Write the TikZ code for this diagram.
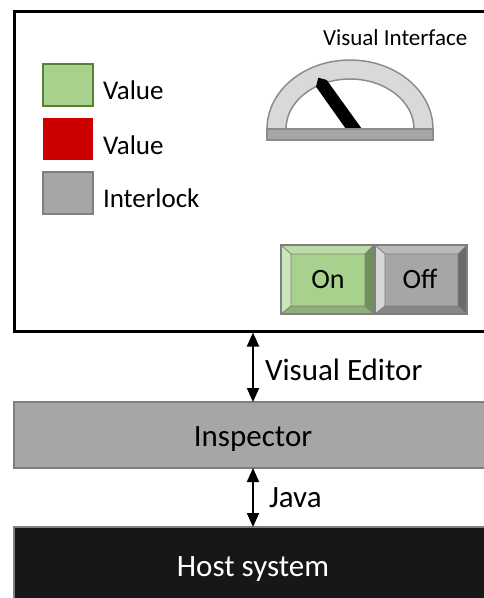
\documentclass[tikz,border=0pt]{standalone}
\usepackage{fontspec}
\setmainfont{Carlito}
\usetikzlibrary{arrows.meta}
\definecolor{gfill}{HTML}{A9D18E}
\definecolor{gstroke}{HTML}{548235}
\definecolor{redv}{HTML}{CC0000}
\definecolor{grfill}{HTML}{A6A6A6}
\definecolor{grstroke}{HTML}{7F7F7F}
\definecolor{gaugefill}{HTML}{D9D9D9}
\definecolor{hostfill}{HTML}{171717}
\definecolor{gtop}{HTML}{BCDBA7}
\definecolor{gleft}{HTML}{CDE5BD}
\definecolor{gright}{HTML}{6F8F5B}
\definecolor{gbot}{HTML}{8EAF78}
\definecolor{otop}{HTML}{BABABA}
\definecolor{oleft}{HTML}{D6D6D6}
\definecolor{oright}{HTML}{6B6B6B}
\definecolor{obot}{HTML}{868686}
\newcommand{\bevbtn}[9]{%
  \fill[#6] (#1,#2) -- (#3,#2) -- (#3-9,#2-9) -- (#1+10,#2-9) -- cycle;
  \fill[#7] (#1,#2) -- (#1+10,#2-9) -- (#1+10,#4+8) -- (#1,#4) -- cycle;
  \fill[#8] (#3,#2) -- (#3,#4) -- (#3-9,#4+8) -- (#3-9,#2-9) -- cycle;
  \fill[#9] (#1,#4) -- (#1+10,#4+8) -- (#3-9,#4+8) -- (#3,#4) -- cycle;
  \fill[#5] (#1+10,#2-9) rectangle (#3-9,#4+8);
  \draw[grstroke,line width=0.8pt] (#1+10,#2-9) rectangle (#3-9,#4+8)
    (#1,#2) -- (#1+10,#2-9) (#3,#2) -- (#3-9,#2-9)
    (#1,#4) -- (#1+10,#4+8) (#3,#4) -- (#3-9,#4+8);
  \draw[grstroke,line width=2pt] (#1,#2) rectangle (#3,#4);
}
\begin{document}
\begin{tikzpicture}[x=1pt,y=1pt,
  txt/.style={inner sep=0pt,outer sep=0pt,font=\fontsize{#1}{#1}\selectfont},
  layer/.style={draw=grstroke,line width=2pt,minimum width=478pt,inner sep=0pt,outer sep=0pt},
  legsq/.style={minimum width=50pt,minimum height=42pt,inner sep=0pt,outer sep=0pt,line width=2pt},
  biarrow/.style={{Triangle[length=14pt,width=12pt]}-{Triangle[length=14pt,width=12pt]},line width=2pt,black}]
\useasboundingbox (0,0) rectangle (484,-598);
\clip (0,0) rectangle (484,-598);
% main frame
\node[draw=black,line width=3pt,minimum width=478pt,minimum height=320pt,inner sep=0pt,outer sep=0pt,anchor=north west] (frame) at (14,-11) {};
% layers
\node[layer,fill=grfill,minimum height=66pt,anchor=north west] (insp) at (14,-402) {};
\node[layer,fill=hostfill,minimum height=90pt,anchor=north west] (host) at (14,-527) {};
\node[txt=31,anchor=base] (insptxt) at (253,-446.7) {Inspector};
\node[txt=31,anchor=base,text=white] (hosttxt) at (253,-576.7) {Host system};
% arrows
\draw[biarrow] (253,-332.5) -- (253,-402);
\draw[biarrow] (253,-468) -- (253,-527);
\node[txt=31,anchor=base west] (vetxt) at (265,-380) {Visual Editor};
\node[txt=31,anchor=base west] (javatxt) at (269,-507) {Java};
% title
\node[txt=23,anchor=base west] (vititle) at (323,-45) {Visual Interface};
% legend
\node[legsq,draw=gstroke,fill=gfill,anchor=north west] (lg1) at (43,-64) {};
\node[legsq,fill=redv,anchor=north west] (lg2) at (43,-118) {};
\node[legsq,draw=grstroke,fill=grfill,anchor=north west] (lg3) at (43,-172) {};
\node[txt=27,anchor=base west] (lt1) at (103,-99) {Value};
\node[txt=27,anchor=base west] (lt2) at (103,-154) {Value};
\node[txt=27,anchor=base west] (lt3) at (103,-207) {Interlock};
% gauge
\filldraw[fill=gaugefill,draw=grstroke!90,line width=1.5pt]
  (267,-129) arc[start angle=180,end angle=0,x radius=83,y radius=69]
  -- (414,-129) arc[start angle=0,end angle=180,x radius=64,y radius=50] -- cycle;
\fill[black] (346.7,-130) -- (316,-86.7) -- (318.3,-77.7) -- (326.7,-80) -- (362.7,-130) -- cycle;
\filldraw[fill=grfill,draw=grstroke!90,line width=1.5pt] (267,-129) rectangle (433,-140);
% buttons
\bevbtn{281}{-245}{374}{-314}{gfill}{gtop}{gleft}{gright}{gbot}
\bevbtn{375}{-245}{467}{-314}{grfill}{otop}{oleft}{oright}{obot}
\node[txt=28,anchor=base] (ontxt) at (328,-288) {On};
\node[txt=28,anchor=base] (offtxt) at (420,-288) {Off};
\end{tikzpicture}
\end{document}
